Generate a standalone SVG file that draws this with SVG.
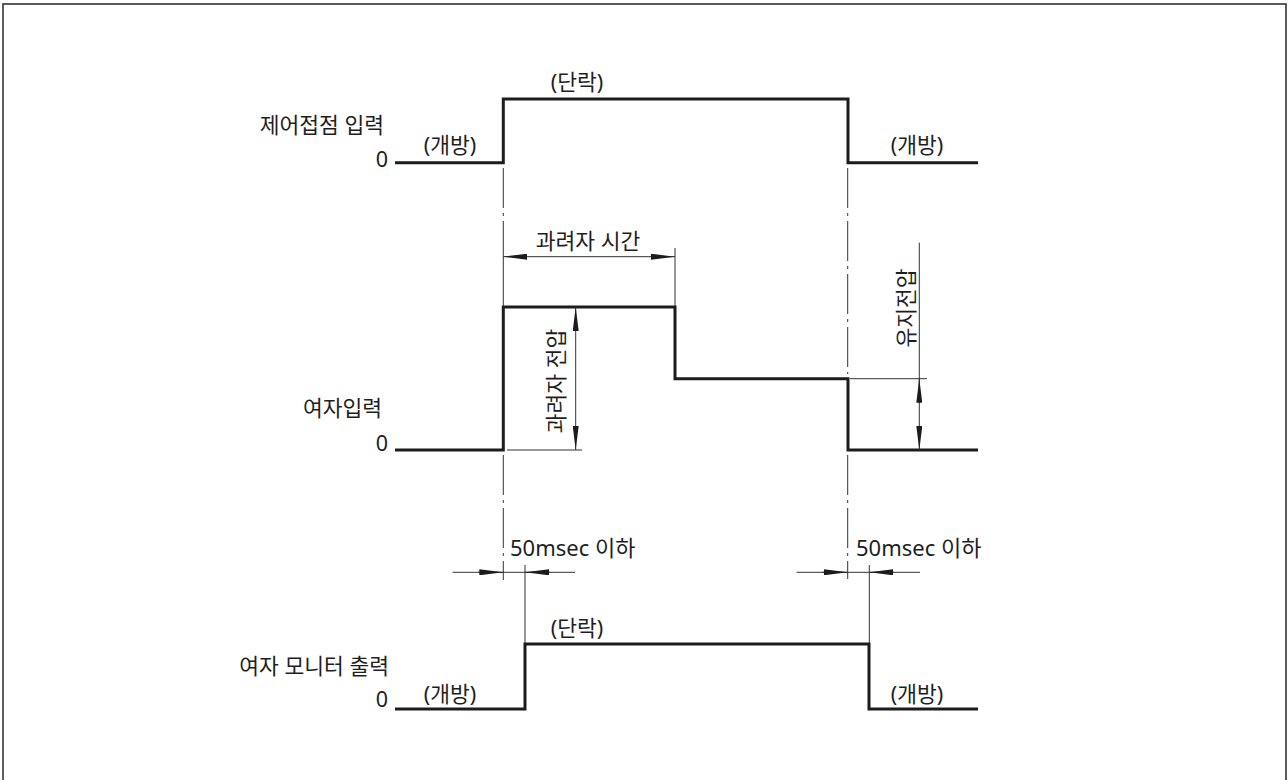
<svg xmlns="http://www.w3.org/2000/svg" width="1288" height="780" viewBox="0 0 1288 780">
<style>
text{font-family:"Noto Sans","Noto Sans CJK KR",sans-serif;font-size:21.5px;fill:#1e1e1e}
.mid{text-anchor:middle}
.end{text-anchor:end}
.ms{font-size:22px}
.wave{fill:none;stroke:#1c1c1c;stroke-width:3;stroke-linejoin:miter}
.thin{fill:none;stroke:#333;stroke-width:1}
.cl{fill:none;stroke:#333;stroke-width:1;stroke-dasharray:40 5 3 5}
.arr{marker-end:url(#ah)}
.arr2{marker-start:url(#ah);marker-end:url(#ah)}
</style>
<defs>
<marker id="ah" viewBox="0 0 24 6" refX="24" refY="3" markerWidth="24" markerHeight="6" markerUnits="userSpaceOnUse" orient="auto-start-reverse">
<path d="M0,0 L24,3 L0,6 Z" fill="#1c1c1c"/>
</marker>
</defs>
<rect x="3" y="4" width="1283" height="790" fill="#fff" stroke="#333" stroke-width="1.6"/>

<g id="contact-input">
<text class="end" x="384" y="133">제어접점 입력</text>
<text class="end" x="388" y="167">0</text>
<path class="wave" d="M395,162.7 H503.3 V99 H848 V162.7 H978"/>
<text class="mid" x="577" y="90">(단락)</text>
<text class="mid" x="450" y="153">(개방)</text>
<text class="mid" x="917" y="153">(개방)</text>
</g>

<g id="excitation-input">
<text class="end" x="382" y="416">여자입력</text>
<text class="end" x="388" y="451">0</text>
<path class="wave" d="M395,450 H503.3 V307 H675 V378.7 H848 V450 H978"/>
</g>

<g id="monitor-output">
<text class="end" x="389" y="674">여자 모니터 출력</text>
<text class="end" x="388" y="707">0</text>
<path class="wave" d="M395,709 H525 V644 H869 V709 H978"/>
<text class="mid" x="577" y="636">(단락)</text>
<text class="mid" x="450" y="702">(개방)</text>
<text class="mid" x="917" y="702">(개방)</text>
</g>

<g id="labels">
<text class="mid" x="588" y="249">과려자 시간</text>
<text class="mid" transform="translate(564,381) rotate(-90)">과려자 전압</text>
<text class="mid" transform="translate(914,308) rotate(-90)">유지전압</text>
<text class="ms" x="510" y="556">50msec 이하</text>
<text class="ms" x="856" y="556">50msec 이하</text>
</g>

<g id="connectors">
<path class="cl" d="M503.3,168 V248"/>
<path class="cl" d="M847.7,168 V374"/>
<path class="cl" d="M503.3,455 V580"/>
<path class="cl" d="M847.7,455 V579"/>
<path class="thin" d="M503.3,248 V306 M675,248 V306 M507,450 H582 M850,378.7 H927 M525,565 V643 M869.3,565 V643"/>
<line class="thin arr2" x1="503.3" y1="256.7" x2="675" y2="256.7"/>
<line class="thin arr2" x1="575.7" y1="307" x2="575.7" y2="450"/>
<line class="thin arr" x1="919.3" y1="242.7" x2="919.3" y2="450"/>
<line class="thin arr" x1="919.3" y1="402.7" x2="919.3" y2="378.7"/>
<line class="thin" x1="452.7" y1="572.3" x2="575" y2="572.3"/>
<line class="thin arr" x1="478" y1="572.3" x2="503.3" y2="572.3"/>
<line class="thin arr" x1="550" y1="572.3" x2="525" y2="572.3"/>
<line class="thin" x1="796.7" y1="572.3" x2="920" y2="572.3"/>
<line class="thin arr" x1="822" y1="572.3" x2="847.7" y2="572.3"/>
<line class="thin arr" x1="894" y1="572.3" x2="869.3" y2="572.3"/>
</g>
</svg>
